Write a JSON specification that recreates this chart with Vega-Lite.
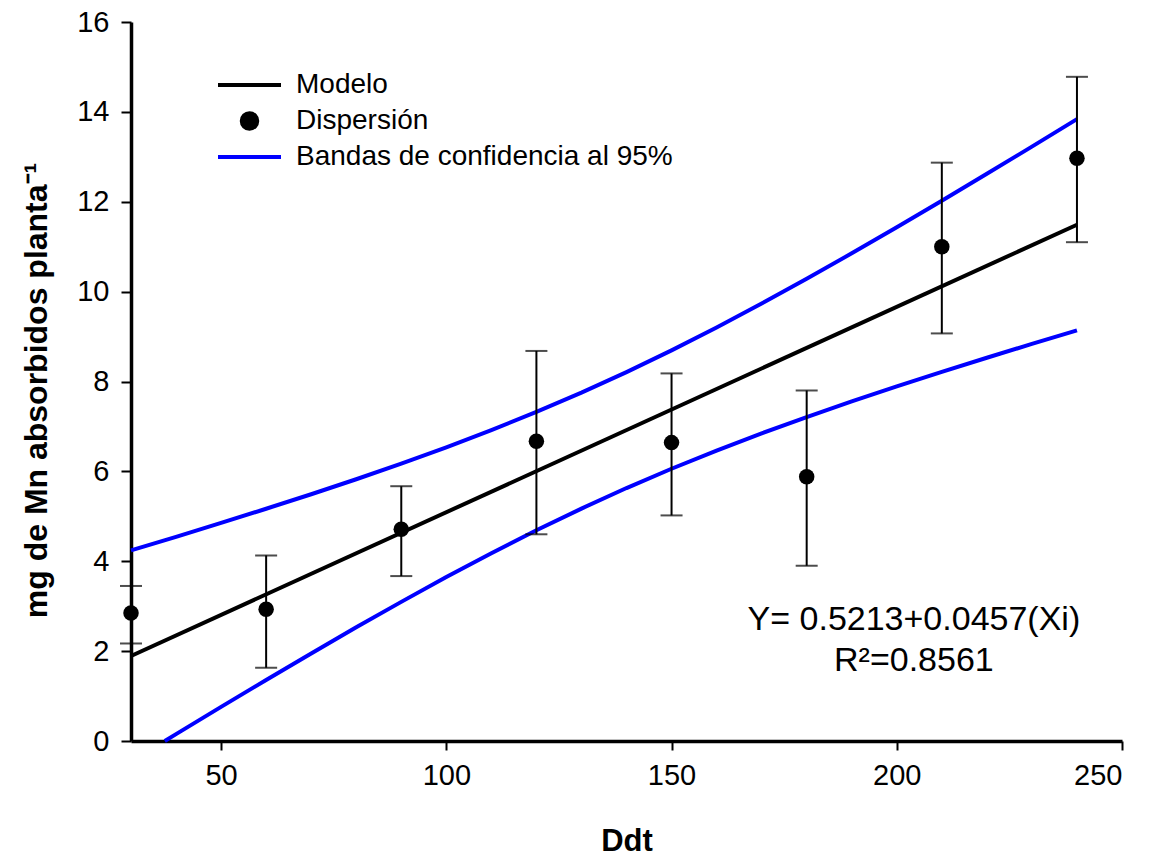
{
  "$schema": "https://vega.github.io/schema/vega-lite/v6.json",
  "width": 991,
  "height": 719,
  "autosize": "none",
  "padding": {"left": 131, "top": 22, "right": 27, "bottom": 115},
  "background": "white",
  "config": {
    "view": {"stroke": null},
    "font": "Liberation Sans",
    "axis": {
      "grid": false,
      "domainColor": "black",
      "domainWidth": 3.5,
      "tickColor": "black",
      "tickWidth": 2,
      "labelFont": "Liberation Sans",
      "labelFontSize": 29,
      "labelColor": "black",
      "titleFont": "Liberation Sans",
      "titleFontWeight": "bold",
      "titleColor": "black"
    }
  },
  "datasets": {
    "model": [
      {"x": 30, "y": 1.892, "series": "Modelo"},
      {"x": 240, "y": 11.489, "series": "Modelo"}
    ],
    "bands": [
      {"x": 30, "y": 4.242, "part": "upper", "series": "Bandas de confidencia al 95%"},
      {"x": 40, "y": 4.544, "part": "upper", "series": "Bandas de confidencia al 95%"},
      {"x": 50, "y": 4.853, "part": "upper", "series": "Bandas de confidencia al 95%"},
      {"x": 60, "y": 5.168, "part": "upper", "series": "Bandas de confidencia al 95%"},
      {"x": 70, "y": 5.491, "part": "upper", "series": "Bandas de confidencia al 95%"},
      {"x": 80, "y": 5.825, "part": "upper", "series": "Bandas de confidencia al 95%"},
      {"x": 90, "y": 6.172, "part": "upper", "series": "Bandas de confidencia al 95%"},
      {"x": 100, "y": 6.535, "part": "upper", "series": "Bandas de confidencia al 95%"},
      {"x": 110, "y": 6.917, "part": "upper", "series": "Bandas de confidencia al 95%"},
      {"x": 120, "y": 7.322, "part": "upper", "series": "Bandas de confidencia al 95%"},
      {"x": 130, "y": 7.752, "part": "upper", "series": "Bandas de confidencia al 95%"},
      {"x": 140, "y": 8.209, "part": "upper", "series": "Bandas de confidencia al 95%"},
      {"x": 150, "y": 8.693, "part": "upper", "series": "Bandas de confidencia al 95%"},
      {"x": 160, "y": 9.202, "part": "upper", "series": "Bandas de confidencia al 95%"},
      {"x": 170, "y": 9.734, "part": "upper", "series": "Bandas de confidencia al 95%"},
      {"x": 180, "y": 10.285, "part": "upper", "series": "Bandas de confidencia al 95%"},
      {"x": 190, "y": 10.852, "part": "upper", "series": "Bandas de confidencia al 95%"},
      {"x": 200, "y": 11.432, "part": "upper", "series": "Bandas de confidencia al 95%"},
      {"x": 210, "y": 12.023, "part": "upper", "series": "Bandas de confidencia al 95%"},
      {"x": 220, "y": 12.622, "part": "upper", "series": "Bandas de confidencia al 95%"},
      {"x": 230, "y": 13.227, "part": "upper", "series": "Bandas de confidencia al 95%"},
      {"x": 240, "y": 13.839, "part": "upper", "series": "Bandas de confidencia al 95%"},
      {"x": 37.5, "y": 0.0, "part": "lower", "series": "Bandas de confidencia al 95%"},
      {"x": 40, "y": 0.154, "part": "lower", "series": "Bandas de confidencia al 95%"},
      {"x": 50, "y": 0.759, "part": "lower", "series": "Bandas de confidencia al 95%"},
      {"x": 60, "y": 1.358, "part": "lower", "series": "Bandas de confidencia al 95%"},
      {"x": 70, "y": 1.949, "part": "lower", "series": "Bandas de confidencia al 95%"},
      {"x": 80, "y": 2.529, "part": "lower", "series": "Bandas de confidencia al 95%"},
      {"x": 90, "y": 3.096, "part": "lower", "series": "Bandas de confidencia al 95%"},
      {"x": 100, "y": 3.647, "part": "lower", "series": "Bandas de confidencia al 95%"},
      {"x": 110, "y": 4.179, "part": "lower", "series": "Bandas de confidencia al 95%"},
      {"x": 120, "y": 4.688, "part": "lower", "series": "Bandas de confidencia al 95%"},
      {"x": 130, "y": 5.172, "part": "lower", "series": "Bandas de confidencia al 95%"},
      {"x": 140, "y": 5.629, "part": "lower", "series": "Bandas de confidencia al 95%"},
      {"x": 150, "y": 6.059, "part": "lower", "series": "Bandas de confidencia al 95%"},
      {"x": 160, "y": 6.464, "part": "lower", "series": "Bandas de confidencia al 95%"},
      {"x": 170, "y": 6.846, "part": "lower", "series": "Bandas de confidencia al 95%"},
      {"x": 180, "y": 7.209, "part": "lower", "series": "Bandas de confidencia al 95%"},
      {"x": 190, "y": 7.556, "part": "lower", "series": "Bandas de confidencia al 95%"},
      {"x": 200, "y": 7.890, "part": "lower", "series": "Bandas de confidencia al 95%"},
      {"x": 210, "y": 8.213, "part": "lower", "series": "Bandas de confidencia al 95%"},
      {"x": 220, "y": 8.528, "part": "lower", "series": "Bandas de confidencia al 95%"},
      {"x": 230, "y": 8.837, "part": "lower", "series": "Bandas de confidencia al 95%"},
      {"x": 240, "y": 9.139, "part": "lower", "series": "Bandas de confidencia al 95%"}
    ],
    "obs": [
      {"x": 30, "y": 2.85, "lo": 2.17, "hi": 3.45, "series": "Dispersión"},
      {"x": 60, "y": 2.93, "lo": 1.63, "hi": 4.13, "series": "Dispersión"},
      {"x": 90, "y": 4.71, "lo": 3.67, "hi": 5.67, "series": "Dispersión"},
      {"x": 120, "y": 6.67, "lo": 4.60, "hi": 8.68, "series": "Dispersión"},
      {"x": 150, "y": 6.64, "lo": 5.02, "hi": 8.18, "series": "Dispersión"},
      {"x": 180, "y": 5.88, "lo": 3.90, "hi": 7.80, "series": "Dispersión"},
      {"x": 210, "y": 11.00, "lo": 9.07, "hi": 12.87, "series": "Dispersión"},
      {"x": 240, "y": 12.97, "lo": 11.10, "hi": 14.78, "series": "Dispersión"}
    ],
    "eq": [
      {"x": 203.8, "y": 2.46, "label": "Y= 0.5213+0.0457(Xi)"},
      {"x": 203.8, "y": 1.55, "label": "R²=0.8561"}
    ]
  },
  "encoding": {
    "x": {
      "field": "x", "type": "quantitative",
      "scale": {"domain": [30, 250], "nice": false, "zero": false},
      "axis": {"values": [50, 100, 150, 200, 250], "tickSize": 9, "labelPadding": 11, "title": "Ddt", "titleFontSize": 31, "titlePadding": 36}
    },
    "y": {
      "field": "y", "type": "quantitative",
      "scale": {"domain": [0, 16], "nice": false},
      "axis": {"values": [0, 2, 4, 6, 8, 10, 12, 14, 16], "tickSize": 10, "labelPadding": 12, "title": "mg de Mn absorbidos planta⁻¹", "titleFontSize": 32, "titlePadding": 23, "titleY": 368}
    }
  },
  "layer": [
    {
      "data": {"name": "bands"},
      "mark": {"type": "line", "strokeWidth": 4},
      "encoding": {
        "detail": {"field": "part"},
        "color": {
          "field": "series", "type": "nominal",
          "scale": {"domain": ["Modelo", "Dispersión", "Bandas de confidencia al 95%"], "range": ["black", "black", "#0000ff"]},
          "legend": {
            "title": null,
            "orient": "none",
            "legendX": 87,
            "legendY": 49,
            "padding": 0,
            "labelFont": "Liberation Sans",
            "labelFontSize": 28,
            "labelColor": "black",
            "labelOffset": 50,
            "labelLimit": 0,
            "rowPadding": 6,
            "symbolSize": 100,
            "symbolStrokeWidth": 4,
            "symbolType": "stroke",
            "encode": {
              "symbols": {
                "update": {
                  "x": {"value": 31.5},
                  "shape": {"signal": "datum.value === 'Dispersión' ? 'circle' : 'M-3,0H3'"},
                  "size": {"signal": "datum.value === 'Dispersión' ? 240 : 441"},
                  "fill": {"signal": "datum.value === 'Dispersión' ? 'black' : 'transparent'"},
                  "stroke": {"signal": "datum.value === 'Dispersión' ? 'transparent' : (datum.value === 'Modelo' ? 'black' : '#0000ff')"},
                  "strokeWidth": {"value": 4},
                  "opacity": {"value": 1}
                }
              }
            }
          }
        }
      }
    },
    {
      "data": {"name": "model"},
      "mark": {"type": "line", "strokeWidth": 4},
      "encoding": {
        "color": {"field": "series", "type": "nominal"}
      }
    },
    {
      "data": {"name": "obs"},
      "mark": {"type": "errorbar", "ticks": {"size": 22, "thickness": 2, "color": "black"}, "rule": {"strokeWidth": 2, "color": "black"}},
      "encoding": {
        "y": {"field": "lo", "type": "quantitative", "title": "mg de Mn absorbidos planta⁻¹"},
        "y2": {"field": "hi"}
      }
    },
    {
      "data": {"name": "obs"},
      "mark": {"type": "point", "filled": true, "size": 240, "opacity": 1},
      "encoding": {
        "color": {"field": "series", "type": "nominal"}
      }
    },
    {
      "data": {"name": "eq"},
      "mark": {"type": "text", "fontSize": 34, "font": "Liberation Sans", "align": "center", "baseline": "alphabetic", "color": "black"},
      "encoding": {
        "text": {"field": "label"}
      }
    }
  ]
}
